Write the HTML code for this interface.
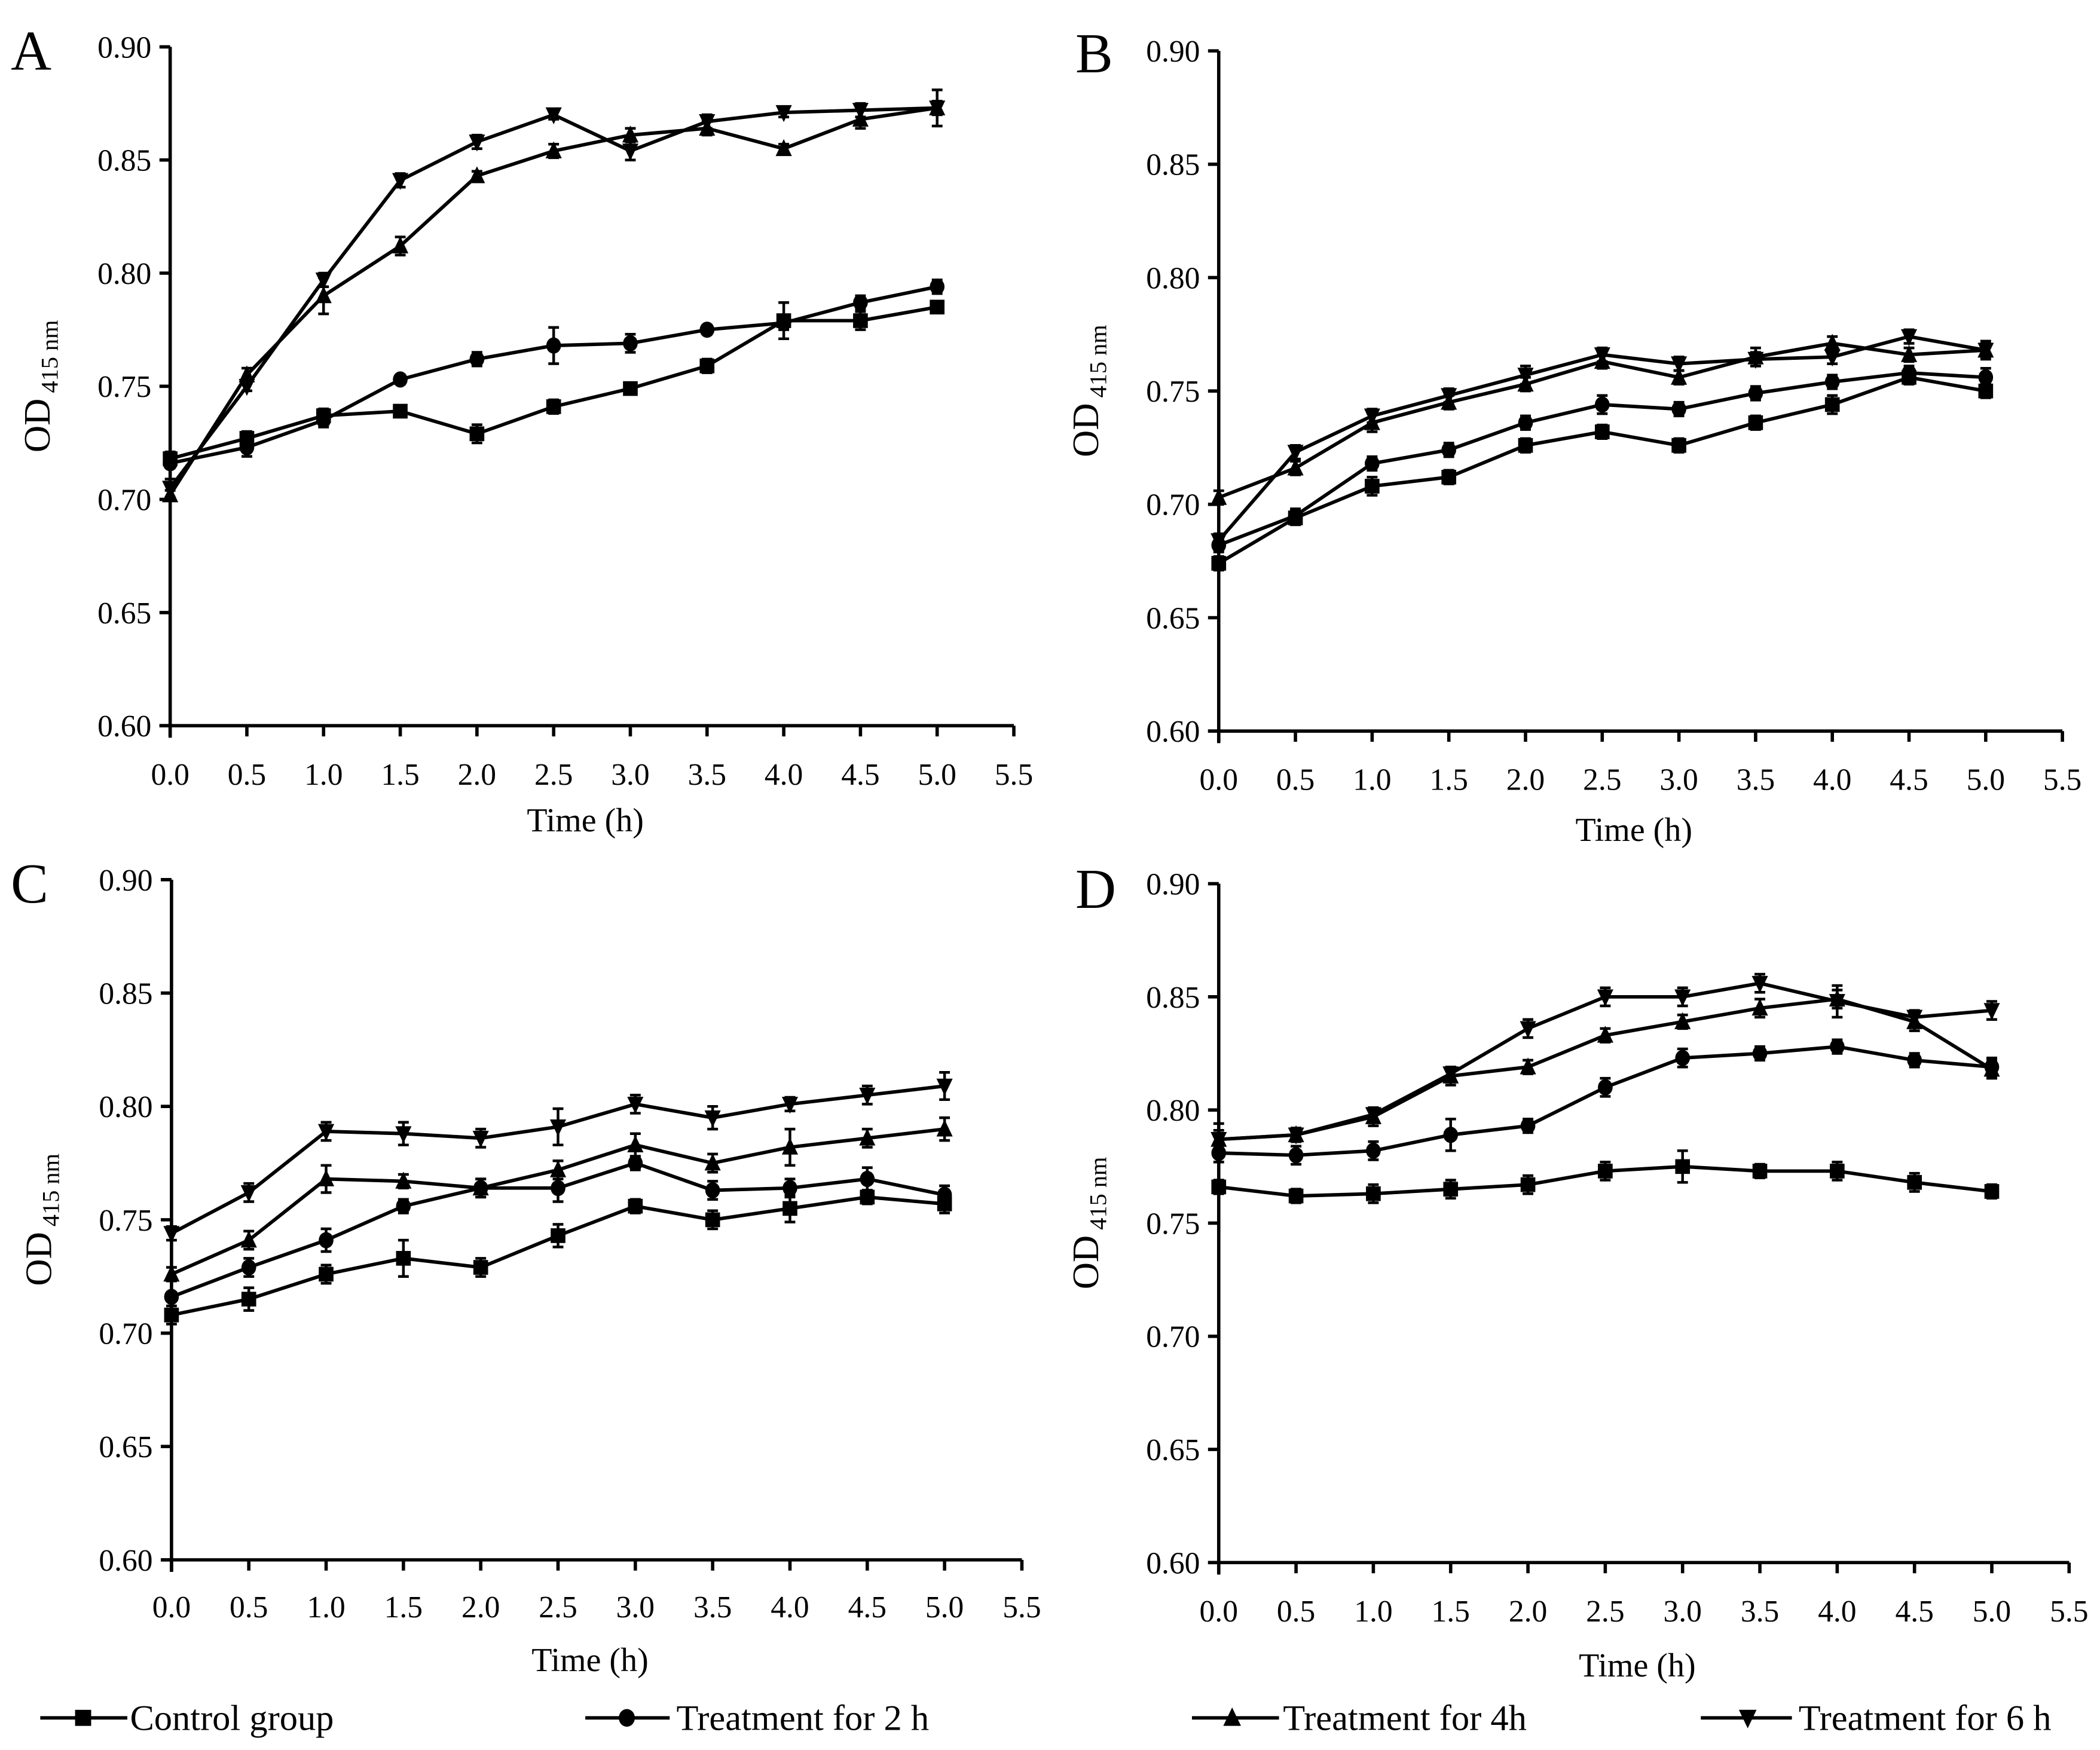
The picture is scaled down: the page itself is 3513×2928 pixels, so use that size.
<!DOCTYPE html>
<html><head><meta charset="utf-8"><style>
html,body{margin:0;padding:0;background:#fff}
svg{display:block}
svg text{font-family:"Liberation Serif","Times New Roman",serif;fill:#000}
</style></head><body>
<svg id="fig" width="3513" height="2928" viewBox="0 0 1568 1307" xmlns="http://www.w3.org/2000/svg" font-family="Liberation Serif, serif"></svg>
<script>
const times = [0,0.5,1,1.5,2,2.5,3,3.5,4,4.5,5];
const xTicks = ["0.0","0.5","1.0","1.5","2.0","2.5","3.0","3.5","4.0","4.5","5.0","5.5"];
const yTicks = ["0.60","0.65","0.70","0.75","0.80","0.85","0.90"];
const seriesNames = ["Control group","Treatment for 2 h","Treatment for 4h","Treatment for 6 h"];
// Panel A
const aControl = [0.718,0.727,0.737,0.739,0.729,0.741,0.749,0.759,0.779,0.779,0.785];
const a2h = [0.716,0.723,0.735,0.753,0.762,0.768,0.769,0.775,0.778,0.787,0.794];
const a4h = [0.702,0.755,0.790,0.812,0.843,0.854,0.861,0.864,0.855,0.868,0.873];
const a6h = [0.705,0.750,0.797,0.841,0.858,0.870,0.854,0.867,0.871,0.872,0.873];
const aErr = [0.003,0.003,0.003,0.002,0.004,0.003,0.002,0.003,0.008,0.004,0.002];
// Panel B
const bControl = [0.674,0.694,0.708,0.712,0.726,0.732,0.726,0.736,0.744,0.756,0.750];
const b2h = [0.682,0.695,0.718,0.724,0.736,0.744,0.742,0.749,0.754,0.758,0.756];
const b4h = [0.703,0.716,0.736,0.745,0.753,0.763,0.756,0.765,0.771,0.766,0.768];
const b6h = [0.684,0.723,0.739,0.748,0.757,0.766,0.762,0.764,0.765,0.774,0.768];
const bErr = [0.003,0.003,0.004,0.003,0.003,0.003,0.003,0.003,0.004,0.003,0.003];
// Panel C
const cControl = [0.708,0.715,0.726,0.733,0.729,0.743,0.756,0.750,0.755,0.760,0.757];
const c2h = [0.716,0.729,0.741,0.756,0.764,0.764,0.775,0.763,0.764,0.768,0.761];
const c4h = [0.726,0.741,0.768,0.767,0.764,0.772,0.783,0.775,0.782,0.786,0.790];
const c6h = [0.744,0.762,0.789,0.788,0.786,0.791,0.801,0.795,0.801,0.805,0.809];
const cErr = [0.004,0.005,0.004,0.008,0.004,0.005,0.003,0.004,0.006,0.003,0.004];
// Panel D
const dControl = [0.766,0.762,0.763,0.765,0.767,0.773,0.775,0.773,0.773,0.768,0.764];
const d2h = [0.781,0.780,0.782,0.789,0.793,0.810,0.823,0.825,0.828,0.822,0.819];
const d4h = [0.787,0.789,0.797,0.815,0.819,0.833,0.839,0.845,0.849,0.839,0.818];
const d6h = [0.787,0.789,0.798,0.816,0.836,0.850,0.850,0.856,0.848,0.841,0.844];
const dErr = [0.003,0.003,0.004,0.004,0.004,0.004,0.007,0.003,0.004,0.004,0.003];

const NS="http://www.w3.org/2000/svg";
const svg=document.getElementById('fig');
const FF="Liberation Serif, Times New Roman, serif";
function mk(tag,attrs,parent){const e=document.createElementNS(NS,tag);for(const k in attrs)e.setAttribute(k,attrs[k]);if(tag==='text')e.setAttribute('font-family',FF);(parent||svg).appendChild(e);return e;}

const panels=[
 {id:'a',letter:'A',x0:127,xEnd:757,yTop:35,yBot:542,lx:8,ly:52,data:[aControl,a2h,a4h,a6h],err:aErr,tx:586,tt:621},
 {id:'b',letter:'B',x0:910,xEnd:1540,yTop:38,yBot:546,lx:803,ly:54,data:[bControl,b2h,b4h,b6h],err:bErr,tx:590,tt:628},
 {id:'c',letter:'C',x0:128,xEnd:763,yTop:657,yBot:1165,lx:8,ly:674,data:[cControl,c2h,c4h,c6h],err:cErr,tx:1208,tt:1248},
 {id:'d',letter:'D',x0:910,xEnd:1545,yTop:660,yBot:1167,lx:803,ly:678,data:[dControl,d2h,d4h,d6h],err:dErr,tx:1211,tt:1252}
];
const markers=['square','circle','up','down'];
function drawMarker(kind,cx,cy,g,r){
 r=r||5.5;let m;
 if(kind==='square')m=mk('rect',{x:cx-r,y:cy-r,width:2*r,height:2*r,fill:'#000'},g);
 else if(kind==='circle')m=mk('ellipse',{cx:cx,cy:cy,rx:r,ry:r*1.1,fill:'#000'},g);
 else if(kind==='up')m=mk('polygon',{points:`${cx},${cy-r*1.3} ${cx-r*1.1},${cy+r} ${cx+r*1.1},${cy+r}`,fill:'#000'},g);
 else m=mk('polygon',{points:`${cx},${cy+r*1.3} ${cx-r*1.1},${cy-r} ${cx+r*1.1},${cy-r}`,fill:'#000'},g);
 return m;
}
panels.forEach(p=>{
 const g=mk('g',{});
 
 
 const xs=t=>p.x0+(p.xEnd-p.x0)*t/5.5;
 const ys=v=>p.yBot-(p.yBot-p.yTop)*(v-0.6)/0.3;
 const lt=mk('text',{x:p.lx,y:p.ly,'font-size':42},g);lt.textContent=p.letter;
 
 
 const ax=mk('g',{stroke:'#000','stroke-width':2.5,fill:'none'},g);
 
 
 mk('line',{x1:p.x0,y1:p.yTop,x2:p.x0,y2:p.yBot+9},ax);
 mk('line',{x1:p.x0-8,y1:p.yBot,x2:p.xEnd,y2:p.yBot},ax);
 yTicks.forEach((lab,i)=>{
  const v=parseFloat(lab),y=ys(v);
  mk('line',{x1:p.x0-8,y1:y,x2:p.x0,y2:y},ax);
  const t=mk('text',{x:p.x0-14,y:y+8,'font-size':23,'text-anchor':'end'},g);t.textContent=lab;
  
  
 });
 xTicks.forEach(lab=>{
  const x=xs(parseFloat(lab));
  mk('line',{x1:x,y1:p.yBot,x2:x,y2:p.yBot+8},ax);
  const t=mk('text',{x:x,y:p.tx,'font-size':23,'text-anchor':'middle'},g);t.textContent=lab;
  
  
 });
 const xt=mk('text',{x:(p.x0+p.xEnd)/2-5,y:p.tt,'font-size':25,'text-anchor':'middle'},g);xt.textContent='Time (h)';
 
 
 const cy=(p.yTop+p.yBot)/2;
 const yt=mk('text',{x:0,y:0,'font-size':28,'text-anchor':'middle',transform:`translate(${p.x0-90},${cy}) rotate(-90)`},g);
 
 
 const s1=mk('tspan',{},yt);s1.textContent='OD';
 const s2=mk('tspan',{'font-size':18,dx:4,dy:6},yt);s2.textContent='415 nm';
 p.data.forEach((vals,si)=>{
  const sg=mk('g',{},g);
  
  
  const pts=vals.map((v,i)=>xs(times[i])+','+ys(v)).join(' ');
  mk('polyline',{points:pts,fill:'none',stroke:'#000','stroke-width':2.6},sg);
  vals.forEach((v,i)=>{
   const x=xs(times[i]),e=p.err[(i+si*3)%p.err.length];
   const eb=mk('path',{d:`M${x},${ys(v+e)}V${ys(v-e)}M${x-4},${ys(v+e)}H${x+4}M${x-4},${ys(v-e)}H${x+4}`,stroke:'#000','stroke-width':2,fill:'none'},sg);
   
   
   const m=drawMarker(markers[si],x,ys(v),sg);
   
   
  });
 });
});
// legend
const legPos=[[30,95,62,97],[437,500,468,505],[890,955,920,958],[1270,1338,1305,1343]];
const lg=mk('g',{});


seriesNames.forEach((n,i)=>{
 const [a,b,m,tx]=legPos[i];
 const eg=mk('g',{},lg);
 
 
 mk('line',{x1:a,y1:1283,x2:b,y2:1283,stroke:'#000','stroke-width':2.6},eg);
 drawMarker(markers[i],m,1283,eg,6);
 const t=mk('text',{x:tx,y:1292,'font-size':27},eg);t.textContent=n;
});
</script>
</body></html>
